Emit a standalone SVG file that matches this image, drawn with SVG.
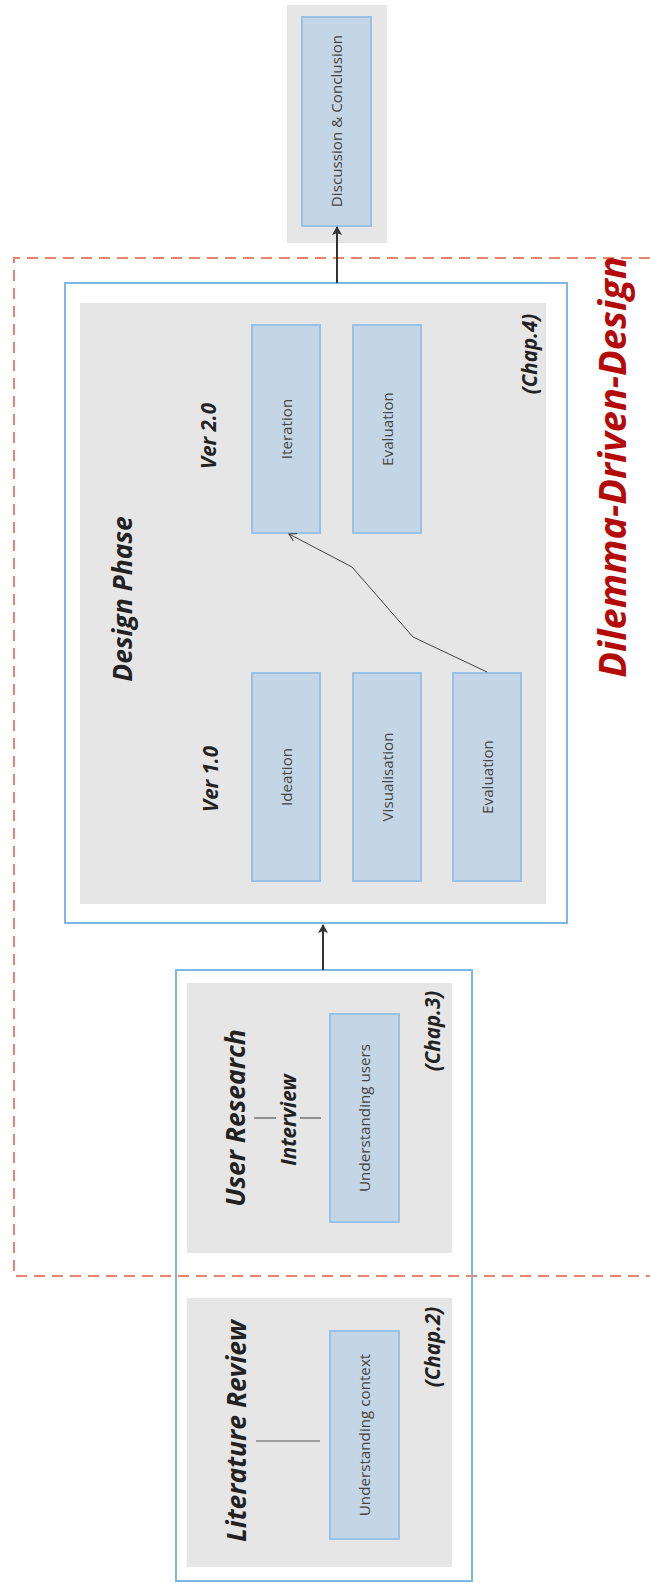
<svg xmlns="http://www.w3.org/2000/svg" width="650" height="1583" viewBox="0 0 650 1583">
<style>
.gray{fill:#e6e6e6;stroke:none}
.outer{fill:none;stroke:#7db7e8;stroke-width:2}
.item{fill:#c4d6e6;stroke:#97c1e6;stroke-width:2}
.lbl{font-family:"Open Sans","Liberation Sans",sans-serif;font-size:15.2px;fill:#444;text-anchor:middle;dominant-baseline:central}
.title{font-family:"Open Sans","Liberation Sans",sans-serif;font-size:26.5px;font-weight:bold;font-style:italic;fill:#222;text-anchor:middle;dominant-baseline:central}
.sub{font-family:"Open Sans","Liberation Sans",sans-serif;font-size:20.5px;font-weight:bold;font-style:italic;fill:#222;text-anchor:middle;dominant-baseline:central}
.big{font-family:"Open Sans","Liberation Sans",sans-serif;font-size:38px;font-weight:bold;font-style:italic;fill:#b40a0a;text-anchor:middle;dominant-baseline:central}
.conn{fill:none;stroke:#333;stroke-width:2}
.thin{fill:none;stroke:#444;stroke-width:1}
.tick{stroke:#555;stroke-width:1.2}
.dash{fill:none;stroke:#e8836d;stroke-width:2;stroke-dasharray:11 7}
</style>
<defs>
<marker id="ah" markerWidth="10" markerHeight="10" refX="8" refY="5" orient="auto" markerUnits="userSpaceOnUse">
<path d="M0,0 L9,5 L0,10 L2,5 Z" fill="#333"/>
</marker>
<marker id="ahs" markerWidth="10" markerHeight="10" refX="8" refY="5" orient="auto" markerUnits="userSpaceOnUse">
<path d="M1,1 L8,5 L1,9" fill="none" stroke="#444" stroke-width="1.2"/>
</marker>
</defs>

<g id="dilemma-frame">
<path class="dash" d="M650,258 H14 V1276 H650"/>
<text class="big" transform="translate(611,467) rotate(-90)">Dilemma-Driven-Design</text>
</g>

<g id="discussion">
<rect class="gray" x="287" y="5" width="100" height="238"/>
<rect class="item" x="302" y="17" width="69" height="209"/>
<text class="lbl" transform="translate(336,121) rotate(-90)">Discussion &amp; Conclusion</text>
</g>

<g id="design-phase">
<rect class="outer" x="65" y="283" width="502" height="640"/>
<rect class="gray" x="80" y="303" width="466" height="601"/>
<text class="title" transform="translate(122,599) rotate(-90)">Design Phase</text>
<text class="sub" transform="translate(208,436) rotate(-90)">Ver 2.0</text>
<text class="sub" transform="translate(210,779) rotate(-90)">Ver 1.0</text>
<text class="sub" transform="translate(529,354) rotate(-90)">(Chap.4)</text>
</g>

<g id="iteration">
<rect class="item" x="252" y="325" width="68" height="208"/>
<text class="lbl" transform="translate(286,429) rotate(-90)">Iteration</text>
</g>
<g id="evaluation2">
<rect class="item" x="353" y="325" width="68" height="208"/>
<text class="lbl" transform="translate(387,429) rotate(-90)">Evaluation</text>
</g>
<g id="ideation">
<rect class="item" x="252" y="673" width="68" height="208"/>
<text class="lbl" transform="translate(286,777) rotate(-90)">Ideation</text>
</g>
<g id="visualisation">
<rect class="item" x="353" y="673" width="68" height="208"/>
<text class="lbl" transform="translate(387,777) rotate(-90)">Visualisation</text>
</g>
<g id="evaluation1">
<rect class="item" x="453" y="673" width="68" height="208"/>
<text class="lbl" transform="translate(487,777) rotate(-90)">Evaluation</text>
</g>

<g id="research-frame">
<rect class="outer" x="176" y="970" width="296" height="611"/>
</g>

<g id="user-research">
<rect class="gray" x="187" y="983" width="265" height="270"/>
<text class="title" transform="translate(235,1118) rotate(-90)">User Research</text>
<text class="sub" transform="translate(288,1120) rotate(-90)">Interview</text>
<line class="tick" x1="254" y1="1118" x2="276" y2="1118"/>
<line class="tick" x1="300" y1="1118" x2="321" y2="1118"/>
<text class="sub" transform="translate(432,1031) rotate(-90)">(Chap.3)</text>
</g>
<g id="understanding-users">
<rect class="item" x="330" y="1014" width="69" height="208"/>
<text class="lbl" transform="translate(364,1118) rotate(-90)">Understanding users</text>
</g>

<g id="literature-review">
<rect class="gray" x="187" y="1298" width="265" height="269"/>
<text class="title" transform="translate(236,1431) rotate(-90)">Literature Review</text>
<line class="tick" x1="256" y1="1441" x2="320" y2="1441"/>
<text class="sub" transform="translate(432,1347) rotate(-90)">(Chap.2)</text>
</g>
<g id="understanding-context">
<rect class="item" x="330" y="1331" width="69" height="208"/>
<text class="lbl" transform="translate(364,1435) rotate(-90)">Understanding context</text>
</g>

<g id="connectors">
<line class="conn" x1="337" y1="283" x2="337" y2="227" marker-end="url(#ah)"/>
<line class="conn" x1="323" y1="970" x2="323" y2="925" marker-end="url(#ah)"/>
<polyline class="thin" points="487,672 413,637 352,567 289,534" marker-end="url(#ahs)"/>
</g>
</svg>
